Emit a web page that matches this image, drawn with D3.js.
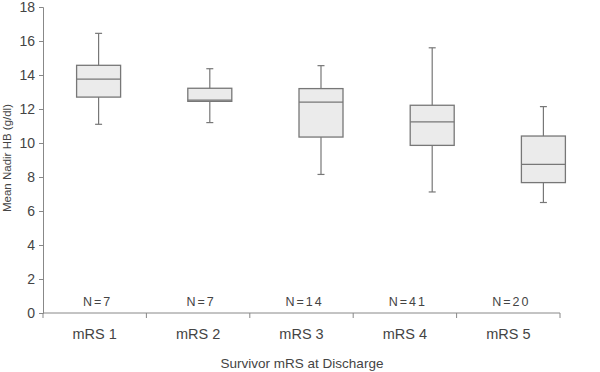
<!DOCTYPE html>
<html>
<head>
<meta charset="utf-8">
<script src="https://cdn.jsdelivr.net/npm/d3@7"></script>
<style>
  body { margin: 0; background: #fff; }
  text { font-family: "Liberation Sans", Arial, sans-serif; fill: #444; }
</style>
</head>
<body>
<div id="chart"></div>
<script>
const categories = ["mRS 1", "mRS 2", "mRS 3", "mRS 4", "mRS 5"];
const counts = ["N=7", "N=7", "N=14", "N=41", "N=20"];
const whiskerLow = [11.1, 11.2, 8.15, 7.12, 6.5];
const q1 = [12.7, 12.45, 10.35, 9.86, 7.67];
const median = [13.76, 12.52, 12.41, 11.24, 8.74];
const q3 = [14.57, 13.22, 13.2, 12.22, 10.41];
const whiskerHigh = [16.45, 14.37, 14.55, 15.6, 12.14];
const yTicks = [0, 2, 4, 6, 8, 10, 12, 14, 16, 18];

const chartWidth = 600, chartHeight = 372;
const plotLeft = 43, plotRight = 560, plotTop = 7, plotBottom = 313;

const svg = d3.select("#chart").append("svg")
    .attr("width", chartWidth)
    .attr("height", chartHeight);

const yScale = d3.scaleLinear().domain([0, 18]).range([plotBottom, plotTop]);

// category axis band
const xScale = d3.scaleBand().domain(categories).range([plotLeft, plotRight]);
// the boxes sit on a slightly wider band (offset as in the original)
const boxScale = d3.scaleBand().domain(categories).range([plotLeft, 599]);

const data = categories.map((c, i) => ({
    cat: c, n: counts[i], lo: whiskerLow[i], q1: q1[i],
    med: median[i], q3: q3[i], hi: whiskerHigh[i]
}));

// y axis
const yAxis = svg.append("g")
    .attr("transform", "translate(" + plotLeft + ",0)")
    .call(d3.axisLeft(yScale).tickValues(yTicks).tickSize(4).tickPadding(4));
yAxis.select(".domain").attr("stroke", "#888");
yAxis.selectAll(".tick line").attr("stroke", "#888");
yAxis.selectAll("text").attr("font-size", "14px").attr("fill", "#444");

// x axis
const xAxis = svg.append("g")
    .attr("transform", "translate(0," + plotBottom + ")")
    .call(d3.axisBottom(xScale).tickSize(0).tickPadding(16));
xAxis.select(".domain").attr("stroke", "#888").attr("d", "M" + plotLeft + ",0H" + plotRight);
xAxis.selectAll("text").attr("font-size", "14.5px").attr("fill", "#444");

// ticks between categories
svg.append("g").selectAll("line")
    .data(categories.concat(["end"]))
    .enter().append("line")
    .attr("x1", (d, i) => plotLeft + i * xScale.step())
    .attr("x2", (d, i) => plotLeft + i * xScale.step())
    .attr("y1", plotBottom)
    .attr("y2", plotBottom + 5)
    .attr("stroke", "#888");

// boxes
const boxW = 44, capW = 7;
const g = svg.append("g");
const box = g.selectAll("g.box").data(data).enter().append("g")
    .attr("class", "box")
    .attr("transform", d => "translate(" + (boxScale(d.cat) + boxScale.bandwidth() / 2) + ",0)");

box.append("line")
    .attr("x1", 0).attr("x2", 0)
    .attr("y1", d => yScale(d.hi)).attr("y2", d => yScale(d.lo))
    .attr("stroke", "#777").attr("stroke-width", 1.2);
box.append("line")
    .attr("x1", -capW / 2).attr("x2", capW / 2)
    .attr("y1", d => yScale(d.hi)).attr("y2", d => yScale(d.hi))
    .attr("stroke", "#777").attr("stroke-width", 1.2);
box.append("line")
    .attr("x1", -capW / 2).attr("x2", capW / 2)
    .attr("y1", d => yScale(d.lo)).attr("y2", d => yScale(d.lo))
    .attr("stroke", "#777").attr("stroke-width", 1.2);
box.append("rect")
    .attr("x", -boxW / 2)
    .attr("width", boxW)
    .attr("y", d => yScale(d.q3))
    .attr("height", d => yScale(d.q1) - yScale(d.q3))
    .attr("fill", "#ebebeb")
    .attr("stroke", "#777")
    .attr("stroke-width", 1.3);
box.append("line")
    .attr("x1", -boxW / 2).attr("x2", boxW / 2)
    .attr("y1", d => yScale(d.med)).attr("y2", d => yScale(d.med))
    .attr("stroke", "#777").attr("stroke-width", 1.3);

// N labels
svg.append("g").selectAll("text")
    .data(data)
    .enter().append("text")
    .attr("x", d => xScale(d.cat) + xScale.bandwidth() / 2 + 3)
    .attr("y", 306)
    .attr("text-anchor", "middle")
    .attr("font-size", "12.5px")
    .attr("letter-spacing", "2px")
    .text(d => d.n);

// titles
svg.append("text")
    .attr("x", 302)
    .attr("y", 368)
    .attr("text-anchor", "middle")
    .attr("font-size", "13.5px")
    .text("Survivor mRS at Discharge");

svg.append("text")
    .attr("transform", "translate(11,158) rotate(-90)")
    .attr("text-anchor", "middle")
    .attr("font-size", "11.5px")
    .text("Mean Nadir HB (g/dl)");
</script>
</body>
</html>
